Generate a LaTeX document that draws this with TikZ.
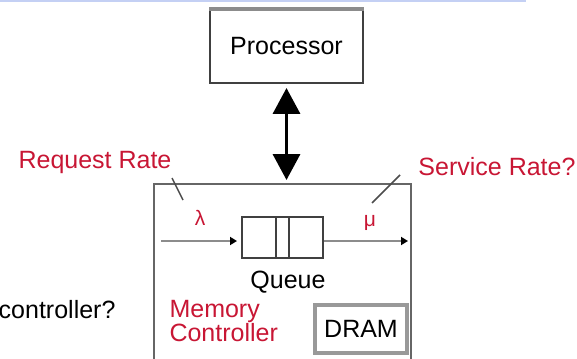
\documentclass[tikz,border=0pt]{standalone}
\usepackage{fontspec}
\setmainfont{Liberation Sans}
\usepackage{xcolor}
\usetikzlibrary{positioning,arrows.meta}
\definecolor{lblred}{RGB}{200,22,52}
\definecolor{topblue}{RGB}{196,208,244}

\begin{document}
\begin{tikzpicture}[x=1pt, y=-1pt, font=\fontsize{25}{25}\selectfont,
  b/.style={draw=black!75,line width=2pt,inner sep=0pt},
  rl/.style={text=lblred},
  tick/.style={draw=black!70,line width=1.5pt},
  arr/.style={draw=black!45,line width=2pt,-{Triangle[length=7pt,width=8pt,color=black]}},
  big/.style={line width=3.5pt,{Triangle[length=26pt,width=27pt]}-{Triangle[length=26pt,width=27pt]}}]
\useasboundingbox (0,0) rectangle (577,358);
\draw[topblue, line width=2.5pt] (0,1) -- (526,1);
% processor and memory controller
\node[b, minimum width=153pt, minimum height=73pt] (proc) at (286.5,46.5) {Processor};
\draw[black!45, line width=4pt] (proc.north west) -- (proc.north east);
\node[b, draw=black!60, anchor=north west, minimum width=257pt, minimum height=200pt] (mc) at (153,183) {};
\draw[big] ([yshift=-4pt]proc.south) -- ([yshift=3pt]proc.south |- mc.north);
% rates
\node[rl] (req) at (95,162) {Request Rate};
\node[rl] (svc) at (497,167) {Service Rate?};
\coordinate (req1) at (172,178); \coordinate (req2) at (183,200);
\coordinate (svc1) at (400,175); \coordinate (svc2) at (372,203);
\draw[tick] (req1) -- (req2); \draw[tick] (svc1) -- (svc2);
% queue
\node[b, minimum width=81pt, minimum height=41pt] (q) at (282.5,237.5) {};
\draw[b] ([xshift=-6.5pt]q.north) -- ([xshift=-6.5pt]q.south);
\draw[b] ([xshift=6.5pt]q.north) -- ([xshift=6.5pt]q.south);
\coordinate (qin) at (161,241); \coordinate (qout) at (408,241);
\draw[arr, shorten >=4pt] (qin) -- (qin -| q.west);
\draw[arr] (qout -| q.east) -- (qout);
\node[rl, font=\fontsize{21}{21}\selectfont] (lam) at (200,218) {λ};
\node[rl, font=\fontsize{21}{21}\selectfont] (mu) at (370,223) {μ};
\node (qlbl) at (288,282) {Queue};
\node[rl, align=left, anchor=west, font=\fontsize{25}{23}\selectfont] (mctxt) at (166,321) {Memory\\Controller};
\node[b, draw=black!40, line width=3.5pt, minimum width=92pt, minimum height=48pt] (dram) at (361,329) {DRAM};
\node[anchor=east] (ctl) at (119,310) {controller?};
\end{tikzpicture}
\end{document}
